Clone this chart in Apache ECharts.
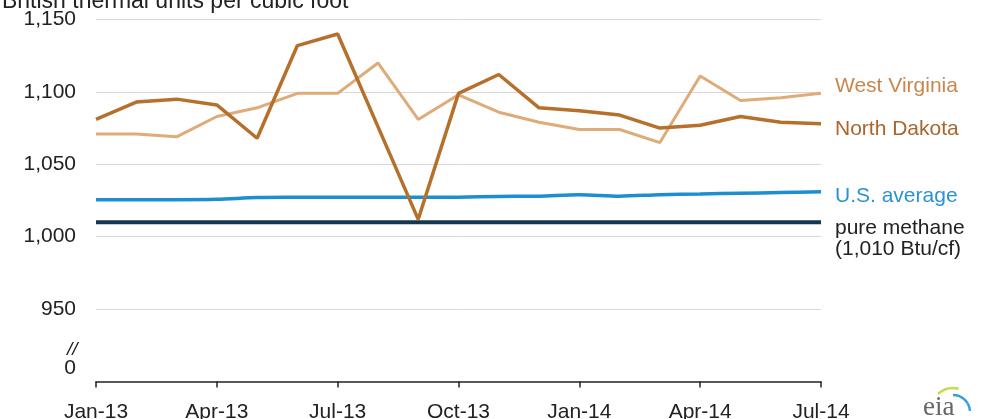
<!DOCTYPE html>
<html>
<head>
<meta charset="utf-8">
<script src="https://cdn.jsdelivr.net/npm/echarts@6/dist/echarts.min.js"></script>
<style>
  html, body { margin: 0; padding: 0; background: #fff; }
  #chart { width: 986px; height: 419px; }
</style>
</head>
<body>
<div id="chart"></div>
<script>
// months Jan-13 .. Jul-14
var months = ['Jan-13','Feb-13','Mar-13','Apr-13','May-13','Jun-13','Jul-13','Aug-13','Sep-13',
  'Oct-13','Nov-13','Dec-13','Jan-14','Feb-14','Mar-14','Apr-14','May-14','Jun-14','Jul-14'];

// Btu per cubic foot
var westVirginia = [1071, 1071, 1069, 1083, 1089, 1099, 1099, 1120, 1081, 1098, 1086, 1079, 1074, 1074, 1065, 1111, 1094, 1096, 1099];
var northDakota  = [1081, 1093, 1095, 1091, 1068, 1132, 1140, 1076, 1012, 1099, 1112, 1089, 1087, 1084, 1075, 1077, 1083, 1079, 1078];
var usAverage    = [1025.6, 1025.6, 1025.6, 1025.8, 1027, 1027.2, 1027.3, 1027.3, 1027.2, 1027.3, 1027.8, 1028, 1029, 1028, 1029, 1029.5, 1030, 1030.5, 1031];
var pureMethane  = [1010, 1010, 1010, 1010, 1010, 1010, 1010, 1010, 1010, 1010, 1010, 1010, 1010, 1010, 1010, 1010, 1010, 1010, 1010];

// y axis: the bottom tick (900) stands for the broken-axis "0"
var yMin = 900, yMax = 1150, yStep = 50;

var font = 'Liberation Sans, Arial, sans-serif';
var chart = echarts.init(document.getElementById('chart'));

var option = {
  animation: false,
  grid: { left: 96, right: 165, top: 19.5, bottom: 37.5, containLabel: false, outerBoundsMode: 'none' },
  xAxis: {
    type: 'category',
    data: months,
    boundaryGap: false,
    axisLine: { lineStyle: { color: '#222', width: 1.5 } },
    axisTick: { show: true, interval: 2, length: 6, lineStyle: { color: '#222', width: 1.5 } },
    axisLabel: { interval: 2, color: '#222', fontSize: 21, fontFamily: font, margin: 20 },
    splitLine: { show: false }
  },
  yAxis: {
    type: 'value',
    min: yMin, max: yMax, interval: yStep,
    axisLine: { show: false },
    axisTick: { show: false },
    axisLabel: {
      color: '#222', fontSize: 21, fontFamily: font, margin: 20,
      formatter: function (v) { return v === yMin ? '{z|0}' : v.toLocaleString('en-US'); },
      rich: { z: { fontSize: 21, fontFamily: font, color: '#222', padding: [0, 0, 26, 0] } }
    },
    splitLine: {
      lineStyle: { color: '#d8d8d8', width: 1 },
      showMinLine: false
    }
  },
  series: [
    {
      name: 'pure methane', type: 'line', data: pureMethane, symbol: 'none',
      lineStyle: { color: '#163750', width: 4 }, z: 2
    },
    {
      name: 'U.S. average', type: 'line', data: usAverage, symbol: 'none', smooth: 0.3,
      lineStyle: { color: '#1d8fd0', width: 3.5 }, z: 3
    },
    {
      name: 'West Virginia', type: 'line', data: westVirginia, symbol: 'none',
      lineStyle: { color: '#dfab78', width: 3 }, z: 4
    },
    {
      name: 'North Dakota', type: 'line', data: northDakota, symbol: 'none',
      lineStyle: { color: '#b5702c', width: 3.5 }, z: 5
    }
  ],
  graphic: [
    { type: 'text', left: 2, top: -10, style: { text: 'British thermal units per cubic foot', fill: '#222', font: '23px ' + font } },
    { type: 'text', left: 67, top: 340, style: { text: '//', fill: '#222', font: 'italic 19px ' + font } },
    { type: 'text', left: 835, top: 76, style: { text: 'West Virginia', fill: '#c9874f', font: '21px ' + font } },
    { type: 'text', left: 835, top: 119, style: { text: 'North Dakota', fill: '#a9662c', font: '21px ' + font } },
    { type: 'text', left: 835, top: 186, style: { text: 'U.S. average', fill: '#2a93d2', font: '21px ' + font } },
    { type: 'text', left: 835, top: 218, style: { text: 'pure methane\n(1,010 Btu/cf)', fill: '#222', font: '21px ' + font, lineHeight: 21 } },
    // eia logo
    { type: 'text', left: 923, top: 394, style: { text: 'eia', fill: '#666', font: '27px Liberation Serif, serif' } },
    { type: 'arc', shape: { cx: 953, cy: 410, r: 22, startAngle: -Math.PI * 0.74, endAngle: -Math.PI * 0.42 },
      style: { stroke: '#c8d94a', lineWidth: 2.5, fill: null } },
    { type: 'arc', shape: { cx: 953, cy: 412, r: 17, startAngle: -Math.PI * 0.5, endAngle: -Math.PI * 0.02 },
      style: { stroke: '#3aa0d6', lineWidth: 2.5, fill: null } }
  ]
};

chart.setOption(option);
</script>
</body>
</html>
